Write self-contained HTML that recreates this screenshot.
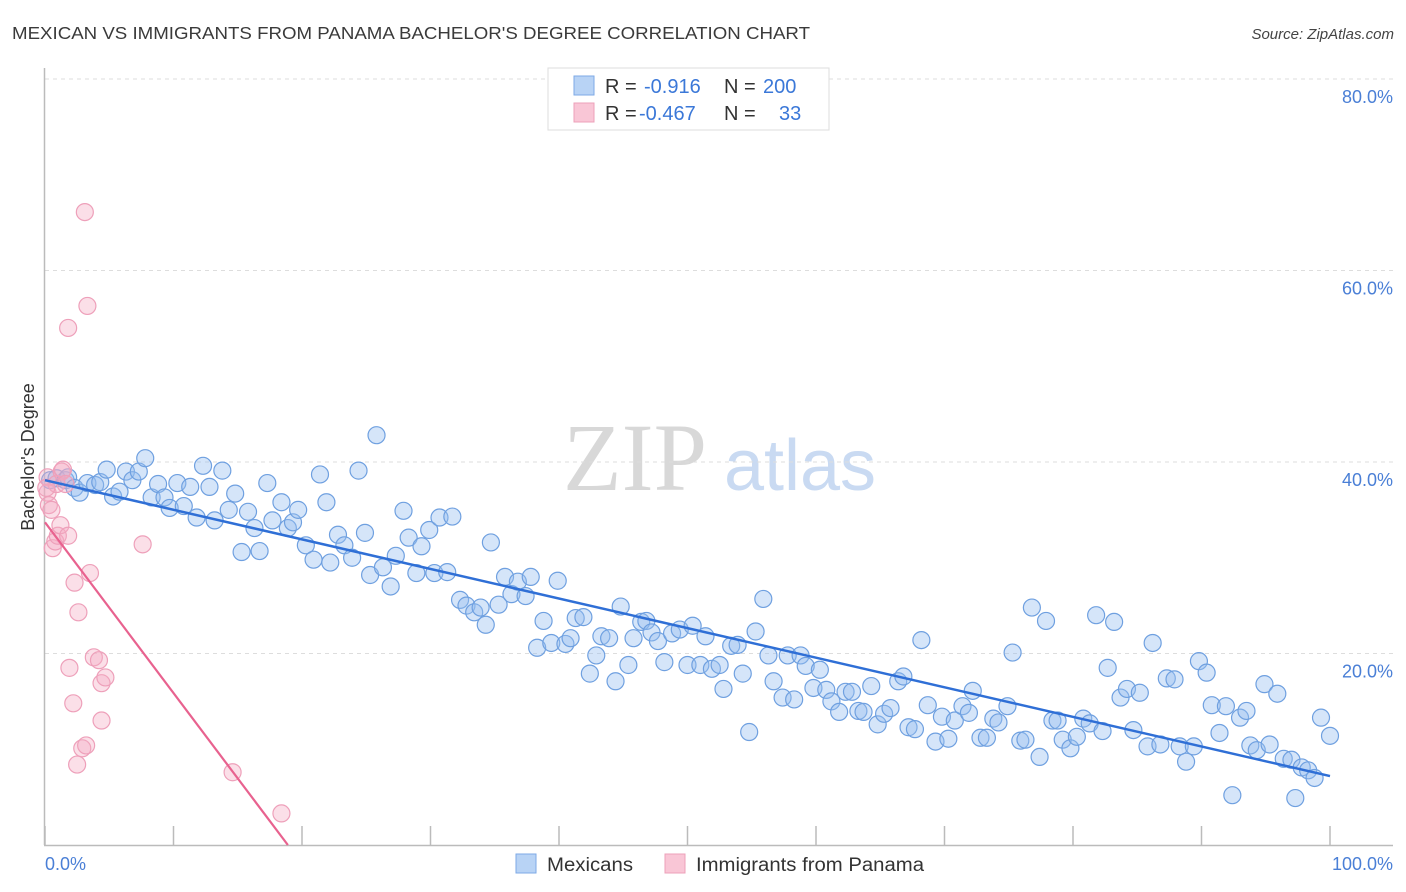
<!DOCTYPE html>
<html><head><meta charset="utf-8"><style>
body{margin:0;background:#fff;font-family:"Liberation Sans",sans-serif}
</style></head><body>
<svg id="chart" width="1406" height="892" xmlns="http://www.w3.org/2000/svg" style="display:block">
<text x="12" y="39" font-size="17.5" fill="#3a3a3a" textLength="798" lengthAdjust="spacingAndGlyphs">MEXICAN VS IMMIGRANTS FROM PANAMA BACHELOR'S DEGREE CORRELATION CHART</text>
<text x="1394" y="39" font-size="15" fill="#444" font-style="italic" text-anchor="end">Source: ZipAtlas.com</text>
<g>
<text x="635" y="490" font-size="96" fill="#d8d8d8" font-family="Liberation Serif,serif" text-anchor="middle">ZIP</text>
<text x="800" y="490" font-size="72" fill="#c9daf2" text-anchor="middle">atlas</text>
</g>
<g id="grid"></g>
<line x1="44.5" y1="68" x2="44.5" y2="845" stroke="#bbb" stroke-width="1.5"/>
<line x1="44" y1="845.5" x2="1393" y2="845.5" stroke="#bbb" stroke-width="1.5"/>
<g id="ticks"></g>
<g id="pts"></g>
<g id="lines"></g>
<text transform="translate(34,457) rotate(-90)" font-size="18" fill="#333" text-anchor="middle">Bachelor's Degree</text>
<text x="45" y="870" font-size="18" fill="#4a7fd6">0.0%</text>
<text x="1393" y="870" font-size="18" fill="#4a7fd6" text-anchor="end">100.0%</text>
<g>
<rect x="548" y="68" width="281" height="62" fill="#fff" stroke="#ddd"/>
<rect x="574" y="76" width="20" height="19" fill="#b8d3f5" stroke="#7eaae6"/>
<rect x="574" y="103" width="20" height="19" fill="#f9c6d6" stroke="#eda0b9"/>
<text x="605" y="93" font-size="20" fill="#333">R = <tspan x="644" fill="#3b78d8">-0.916</tspan><tspan x="724" fill="#333">N = </tspan><tspan x="763" fill="#3b78d8">200</tspan></text>
<text x="605" y="120" font-size="20" fill="#333">R = <tspan x="639" fill="#3b78d8">-0.467</tspan><tspan x="724" fill="#333">N = </tspan><tspan x="779" fill="#3b78d8">33</tspan></text>
</g>
<g>
<rect x="516" y="854" width="20" height="19" fill="#b8d3f5" stroke="#7eaae6"/>
<text x="547" y="871" font-size="19" fill="#333" textLength="86" lengthAdjust="spacingAndGlyphs">Mexicans</text>
<rect x="665" y="854" width="20" height="19" fill="#f9c6d6" stroke="#eda0b9"/>
<text x="696" y="871" font-size="19" fill="#333" textLength="228" lengthAdjust="spacingAndGlyphs">Immigrants from Panama</text>
</g>
</svg>
<script>
const yTicks=[20,40,60,80];
const yTickLabels=["20.0%","40.0%","60.0%","80.0%"];
const xTicks=[0,10,20,30,40,50,60,70,80,90,100];
const blueX=[0.4,0.9,1.6,1.8,2.3,2.7,3.3,3.9,4.3,4.8,5.3,5.8,6.3,6.8,7.3,7.8,8.3,8.8,9.3,9.7,10.3,10.8,11.3,11.8,12.3,12.8,13.2,13.8,14.3,14.8,15.3,15.8,16.3,16.7,17.3,17.7,18.4,18.9,19.3,19.7,20.3,20.9,21.4,21.9,22.2,22.8,23.3,23.9,24.4,24.9,25.3,25.8,26.3,26.9,27.3,27.9,28.3,28.9,29.3,29.9,30.3,30.7,31.3,31.7,32.3,32.8,33.4,33.9,34.3,34.7,35.3,35.8,36.3,36.8,37.4,37.8,38.3,38.8,39.4,39.9,40.5,40.9,41.3,41.9,42.4,42.9,43.3,43.9,44.4,44.8,45.4,45.8,46.4,46.8,47.2,47.7,48.2,48.8,49.4,50.0,50.4,51.0,51.4,51.9,52.5,52.8,53.4,53.9,54.3,54.8,55.3,55.9,56.3,56.7,57.4,57.8,58.3,58.8,59.2,59.8,60.3,60.8,61.2,61.8,62.3,62.8,63.3,63.7,64.3,64.8,65.3,65.8,66.4,66.8,67.2,67.7,68.2,68.7,69.3,69.8,70.3,70.8,71.4,71.9,72.2,72.8,73.3,73.8,74.2,74.9,75.3,75.9,76.3,76.8,77.4,77.9,78.4,78.8,79.2,79.8,80.3,80.8,81.3,81.8,82.3,82.7,83.2,83.7,84.2,84.7,85.2,85.8,86.2,86.8,87.3,87.9,88.3,88.8,89.4,89.8,90.4,90.8,91.4,91.9,92.4,93.0,93.5,93.8,94.3,94.9,95.3,95.9,96.4,97.0,97.3,97.8,98.3,98.8,99.3,100];
const blueY=[38.1,38.3,38.1,38.4,37.3,36.8,37.8,37.6,37.9,39.2,36.4,36.9,39.0,38.1,39.0,40.4,36.3,37.7,36.3,35.2,37.8,35.4,37.4,34.2,39.6,37.4,33.9,39.1,35.0,36.7,30.6,34.8,33.1,30.7,37.8,33.9,35.8,33.1,33.7,35.0,31.3,29.8,38.7,35.8,29.5,32.4,31.3,30.0,39.1,32.6,28.2,42.8,29.0,27.0,30.2,34.9,32.1,28.4,31.2,32.9,28.4,34.2,28.5,34.3,25.6,25.0,24.3,24.8,23.0,31.6,25.1,28.0,26.2,27.5,26.0,28.0,20.6,23.4,21.1,27.6,21.0,21.6,23.7,23.8,17.9,19.8,21.8,21.6,17.1,24.9,18.8,21.6,23.3,23.4,22.2,21.3,19.1,22.1,22.5,18.8,22.9,18.8,21.8,18.4,18.8,16.3,20.8,20.9,17.9,11.8,22.3,25.7,19.8,17.1,15.4,19.8,15.2,19.8,18.7,16.4,18.3,16.2,15.0,13.9,16.0,16.0,14.0,13.9,16.6,12.6,13.7,14.3,17.1,17.6,12.3,12.1,21.4,14.6,10.8,13.4,11.1,13.0,14.5,13.8,16.1,11.2,11.2,13.2,12.8,14.5,20.1,10.9,11.0,24.8,9.2,23.4,13.0,13.0,11.0,10.1,11.3,13.2,12.7,24.0,11.9,18.5,23.3,15.4,16.3,12.0,15.9,10.3,21.1,10.5,17.4,17.3,10.3,8.7,10.3,19.2,18.0,14.6,11.7,14.5,5.2,13.3,14.0,10.4,9.9,16.8,10.5,15.8,9.0,8.9,4.9,8.1,7.8,7.0,13.3,11.4];
const pinkX=[0.2,0.2,0.3,0.5,0.6,0.8,0.9,1.0,1.2,1.3,1.4,1.6,1.8,1.8,1.9,2.2,2.3,2.5,2.6,2.9,3.2,3.1,3.3,3.5,3.8,4.2,4.4,4.4,4.7,7.6,14.6,18.4,0.1];
const pinkY=[38.4,36.8,35.5,35.0,31.0,31.7,37.7,32.3,33.4,39.0,39.2,37.7,32.3,54.0,18.5,14.8,27.4,8.4,24.3,10.1,10.4,66.1,56.3,28.4,19.6,19.3,16.9,13.0,17.5,31.4,7.6,3.3,37.3];
const blueTrendX=[0,100], blueTrendY=[38.1,7.2];
const pinkTrendX=[0,18.9], pinkTrendY=[33.7,0];
const NS="http://www.w3.org/2000/svg";
const sx=v=>45+v*12.85, sy=v=>845-v*9.575;
function mk(tag,attrs,parent){const e=document.createElementNS(NS,tag);for(const k in attrs)e.setAttribute(k,attrs[k]);parent.appendChild(e);return e;}
const grid=document.getElementById('grid'),ticks=document.getElementById('ticks'),pts=document.getElementById('pts'),lines=document.getElementById('lines');
yTicks.forEach((t,i)=>{
 const l=mk('line',{x1:45,x2:1393,y1:sy(t),y2:sy(t),stroke:'#ddd','stroke-dasharray':'4,4'},grid);
 
 
 const tx=mk('text',{x:1393,y:sy(t)+24,'font-size':18,fill:'#4a7fd6','text-anchor':'end'},grid);
 tx.textContent=yTickLabels[i];
 
 
});
xTicks.forEach(t=>{
 const l=mk('line',{x1:sx(t),x2:sx(t),y1:826,y2:845,stroke:'#bbb','stroke-width':1.5},ticks);
 
 
});
blueX.forEach((x,i)=>{
 const c=mk('circle',{cx:sx(x),cy:sy(blueY[i]),r:8.5,fill:'rgba(150,190,240,0.4)',stroke:'#6fa0e0','stroke-width':1.2},pts);
 
 
});
pinkX.forEach((x,i)=>{
 const c=mk('circle',{cx:sx(x),cy:sy(pinkY[i]),r:8.5,fill:'rgba(245,170,195,0.38)',stroke:'#eea0ba','stroke-width':1.2},pts);
 
 
});
const bl=mk('line',{x1:sx(blueTrendX[0]),y1:sy(blueTrendY[0]),x2:sx(blueTrendX[1]),y2:sy(blueTrendY[1]),stroke:'#2f6fd6','stroke-width':2.5},lines);


const pl=mk('line',{x1:sx(pinkTrendX[0]),y1:sy(pinkTrendY[0]),x2:sx(pinkTrendX[1]),y2:sy(pinkTrendY[1]),stroke:'#e8628f','stroke-width':2.2},lines);


</script>
</body></html>
